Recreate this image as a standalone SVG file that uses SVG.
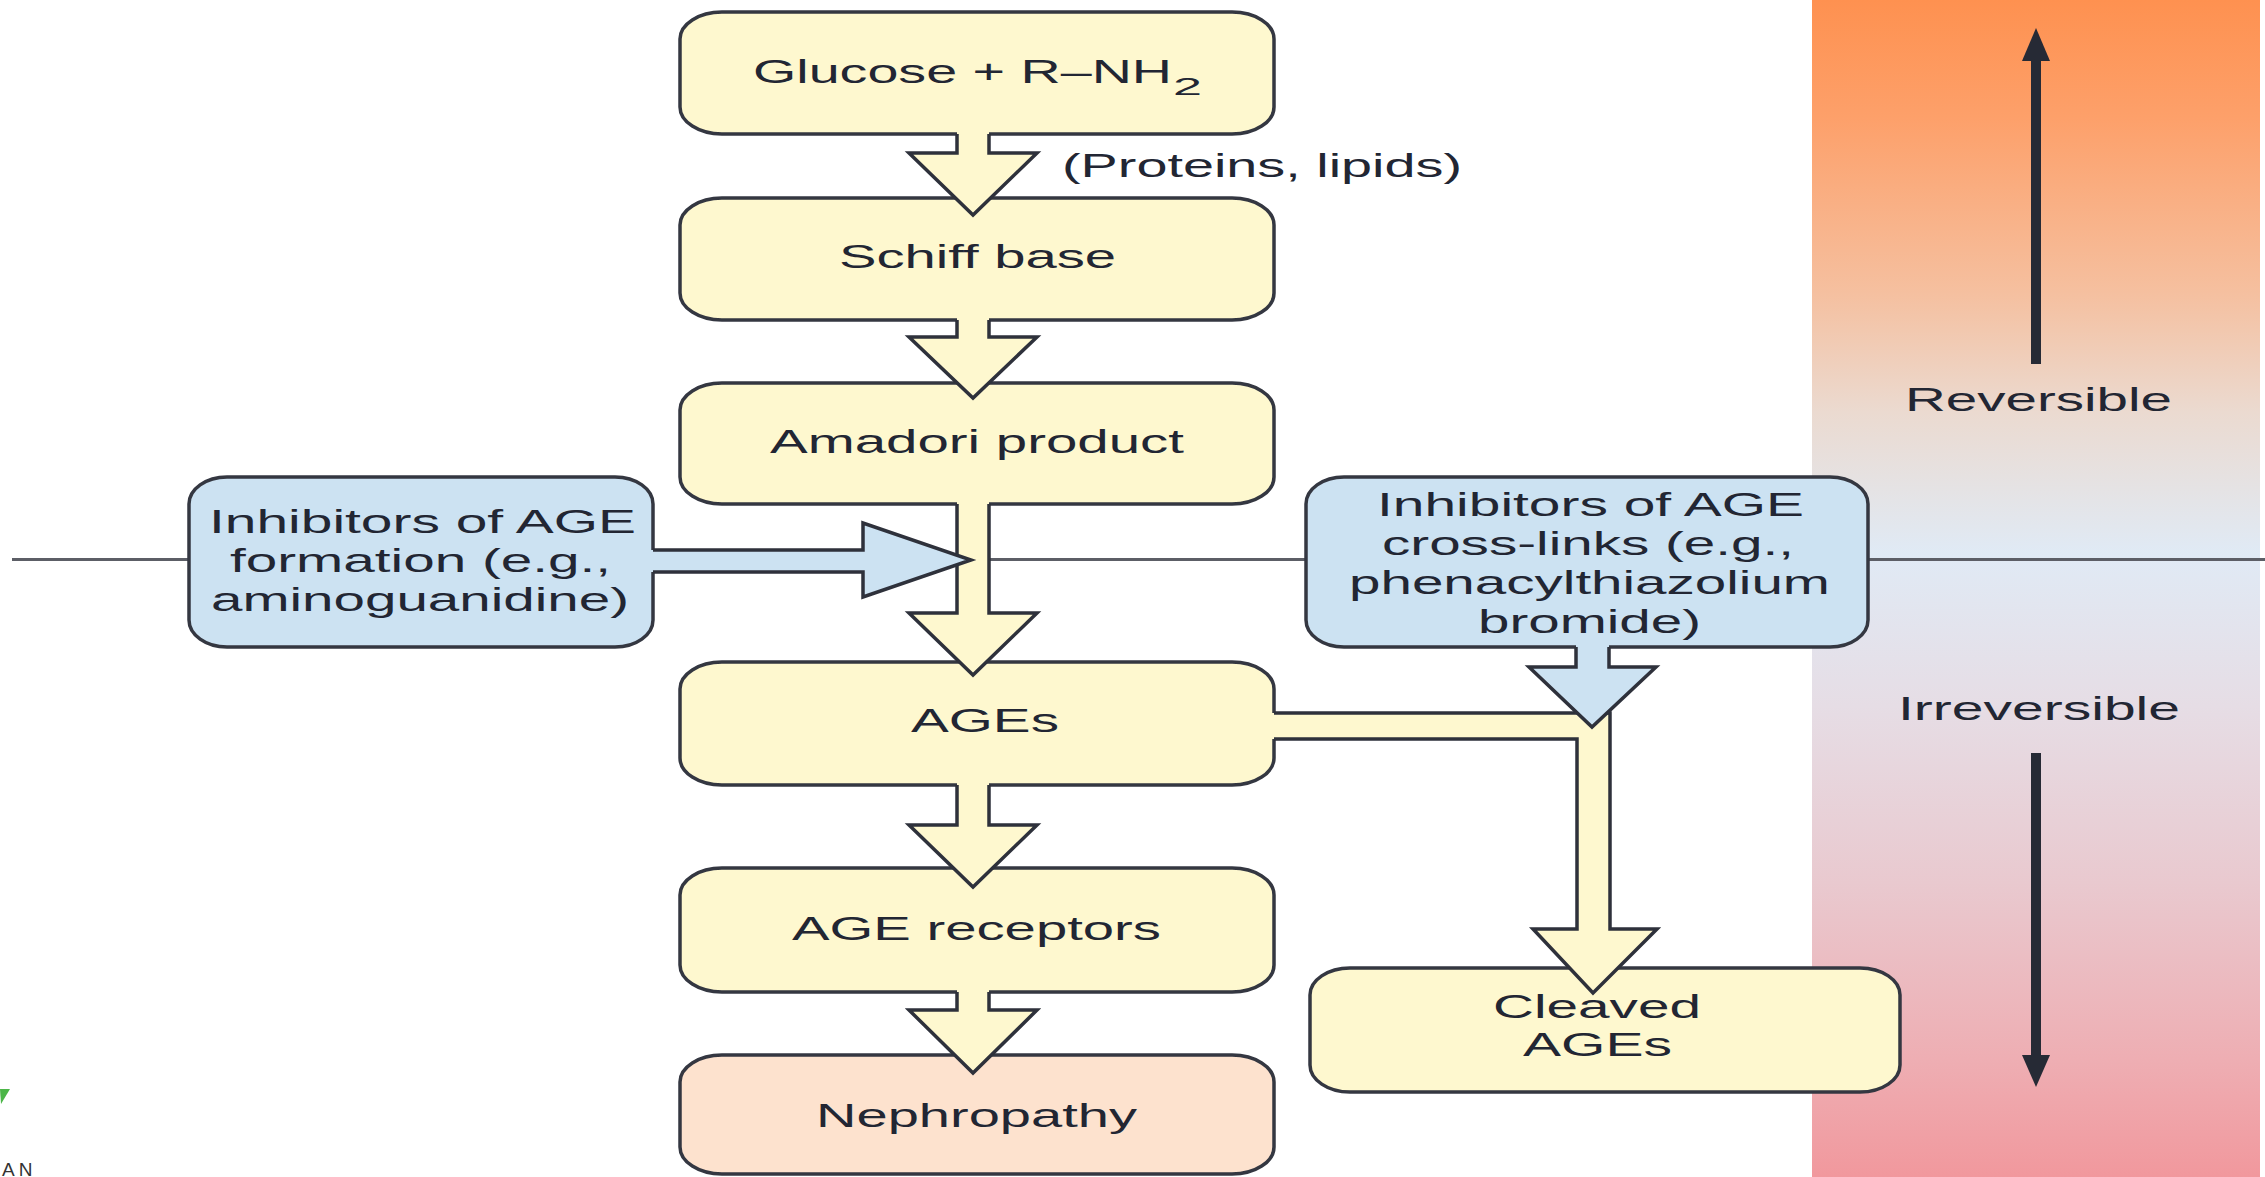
<svg xmlns="http://www.w3.org/2000/svg" width="2265" height="1177" viewBox="0 0 2265 1177">
<defs>
<linearGradient id="panel" x1="0" y1="0" x2="0" y2="1">
<stop offset="0" stop-color="#FE9150"/>
<stop offset="0.1" stop-color="#FDA06A"/>
<stop offset="0.25" stop-color="#F5C0A0"/>
<stop offset="0.35" stop-color="#EBDAD0"/>
<stop offset="0.47" stop-color="#E0EAF5"/>
<stop offset="0.6" stop-color="#E6DDE5"/>
<stop offset="0.75" stop-color="#E9C9CF"/>
<stop offset="0.9" stop-color="#EEAEB3"/>
<stop offset="1" stop-color="#F1989D"/>
</linearGradient>
<style>
.box{stroke:#343741;stroke-width:3.5}
.y{fill:#FEF8CF}
.b{fill:#CCE2F2}
.p{fill:#FDE2CE}
.ol{fill:none;stroke:#2E313B;stroke-width:3.5;stroke-linejoin:miter}
.t{font-family:"Liberation Sans",Arial,sans-serif;font-size:33px;fill:#222633}
.dark{fill:#262A35}
</style>
</defs>
<g id="background">
<rect x="1812" y="0" width="448" height="1177" fill="url(#panel)"/>
<line x1="12" y1="559.5" x2="2265" y2="559.5" stroke="#5C5E66" stroke-width="3"/>
</g>
<g id="node-glucose">
<rect class="box y" x="680" y="12" width="594" height="122" rx="42" ry="27"/>
<text class="t" x="753" y="83" textLength="419" lengthAdjust="spacingAndGlyphs">Glucose + R–NH</text>
<text class="t" x="1173" y="95" style="font-size:24px" textLength="29" lengthAdjust="spacingAndGlyphs">2</text>
</g>
<g id="label-proteins">
<text class="t" x="1062" y="177" textLength="400" lengthAdjust="spacingAndGlyphs">(Proteins, lipids)</text>
</g>
<g id="node-schiff">
<rect class="box y" x="680" y="198" width="594" height="122" rx="42" ry="27"/>
<text class="t" x="839" y="268" textLength="277" lengthAdjust="spacingAndGlyphs">Schiff base</text>
</g>
<g id="node-amadori">
<rect class="box y" x="680" y="383" width="594" height="121" rx="42" ry="27"/>
<text class="t" x="770" y="453" textLength="414" lengthAdjust="spacingAndGlyphs">Amadori product</text>
</g>
<g id="node-ages">
<rect class="box y" x="680" y="662" width="594" height="123" rx="42" ry="27"/>
<text class="t" x="911" y="732" textLength="148" lengthAdjust="spacingAndGlyphs">AGEs</text>
</g>
<g id="node-receptors">
<rect class="box y" x="680" y="868" width="594" height="124" rx="42" ry="27"/>
<text class="t" x="792" y="940" textLength="369" lengthAdjust="spacingAndGlyphs">AGE receptors</text>
</g>
<g id="node-nephropathy">
<rect class="box p" x="680" y="1055" width="594" height="119" rx="42" ry="27"/>
<text class="t" x="816" y="1127" textLength="321" lengthAdjust="spacingAndGlyphs">Nephropathy</text>
</g>
<g id="node-inhibitors-formation">
<rect class="box b" x="189" y="477" width="464" height="170" rx="38" ry="27"/>
<text class="t" x="209" y="533" textLength="427" lengthAdjust="spacingAndGlyphs">Inhibitors of AGE</text>
<text class="t" x="230" y="572" textLength="381" lengthAdjust="spacingAndGlyphs">formation (e.g.,</text>
<text class="t" x="211" y="611" textLength="418" lengthAdjust="spacingAndGlyphs">aminoguanidine)</text>
</g>
<g id="node-inhibitors-crosslinks">
<rect class="box b" x="1306" y="477" width="562" height="170" rx="38" ry="27"/>
<text class="t" x="1377" y="516" textLength="427" lengthAdjust="spacingAndGlyphs">Inhibitors of AGE</text>
<text class="t" x="1382" y="555" textLength="412" lengthAdjust="spacingAndGlyphs">cross-links (e.g.,</text>
<text class="t" x="1349" y="594" textLength="481" lengthAdjust="spacingAndGlyphs">phenacylthiazolium</text>
<text class="t" x="1478" y="633" textLength="223" lengthAdjust="spacingAndGlyphs">bromide)</text>
</g>
<g id="node-cleaved">
<rect class="box y" x="1310" y="968" width="590" height="124" rx="40" ry="27"/>
<text class="t" x="1493" y="1018" textLength="208" lengthAdjust="spacingAndGlyphs">Cleaved</text>
<text class="t" x="1523" y="1056" textLength="149" lengthAdjust="spacingAndGlyphs">AGEs</text>
</g>
<g id="node-reversible">
<text class="t" x="1905" y="411" textLength="267" lengthAdjust="spacingAndGlyphs">Reversible</text>
</g>
<g id="node-irreversible">
<text class="t" x="1898" y="720" textLength="282" lengthAdjust="spacingAndGlyphs">Irreversible</text>
</g>
<g id="connectors">
<polygon class="y" points="957,131 989,131 989,153 1037,153 973,215 909,153 957,153"/>
<path class="ol" d="M957,134 V153 H909 L973,215 L1037,153 H989 V134"/>
<polygon class="y" points="957,317 989,317 989,337 1037,337 973,398 909,337 957,337"/>
<path class="ol" d="M957,320 V337 H909 L973,398 L1037,337 H989 V320"/>
<polygon class="y" points="957,501 989,501 989,613 1037,613 973,675 909,613 957,613"/>
<path class="ol" d="M957,504 V613 H909 L973,675 L1037,613 H989 V504"/>
<polygon class="y" points="957,782 989,782 989,825 1037,825 973,887 909,825 957,825"/>
<path class="ol" d="M957,785 V825 H909 L973,887 L1037,825 H989 V785"/>
<polygon class="y" points="957,989 989,989 989,1010 1037,1010 973,1073 909,1010 957,1010"/>
<path class="ol" d="M957,992 V1010 H909 L973,1073 L1037,1010 H989 V992"/>
<polygon class="y" points="1271,713 1610,713 1610,929 1657,929 1593,993 1533,929 1577,929 1577,739 1271,739"/>
<path class="ol" d="M1274,713 H1610 V929 H1657 L1593,993 L1533,929 H1577 V739 H1274"/>
<polygon class="b" points="650,550 863,550 863,523 971,560 863,597 863,572 650,572"/>
<path class="ol" d="M653,550 H863 V523 L971,560 L863,597 V572 H653"/>
<polygon class="b" points="1576,644 1609,644 1609,667 1656,667 1592,727 1529,667 1576,667"/>
<path class="ol" d="M1576,647 V667 H1529 L1592,727 L1656,667 H1609 V647"/>
<rect class="dark" x="2031" y="56" width="10" height="308"/>
<polygon class="dark" points="2036,28 2050,61 2022,61"/>
<rect class="dark" x="2031" y="753" width="10" height="306"/>
<polygon class="dark" points="2036,1087 2050,1055 2022,1055"/>
</g>
<g id="logo-fragment">
<polygon points="0,1089 10,1089 1,1104" fill="#4CB648"/>
<text x="2" y="1176" style="font-family:'Liberation Sans',Arial,sans-serif;font-size:19px;fill:#333;letter-spacing:4px">AN</text>
</g>
</svg>
